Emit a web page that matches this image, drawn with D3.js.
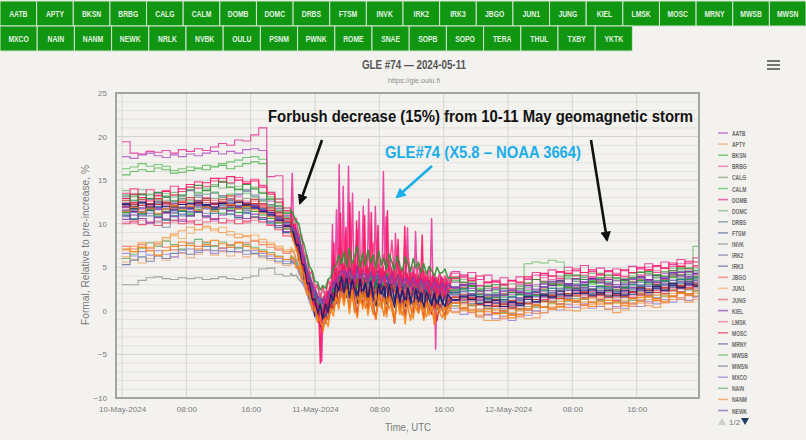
<!DOCTYPE html>
<html>
<head>
<meta charset="utf-8">
<script src="https://cdn.jsdelivr.net/npm/d3@7"></script>
<style>
  html, body { margin: 0; padding: 0; background: #f3f2ef; }
  svg { display: block; }
</style>
</head>
<body>
<svg id="chart" width="806" height="440"></svg>
<script>
// Neutron monitor stations (button order; first 26 appear on legend page 1)
const stations = ["AATB","APTY","BKSN","BRBG","CALG","CALM","DOMB","DOMC","DRBS","FTSM","INVK","IRK2","IRK3",
  "JBGO","JUN1","JUNG","KIEL","LMSK","MOSC","MRNY","MWSB","MWSN","MXCO","NAIN","NANM","NEWK",
  "NRLK","NVBK","OULU","PSNM","PWNK","ROME","SNAE","SOPB","SOPO","TERA","THUL","TXBY","YKTK"];

const stationColors = ["#b55bc9","#f2ad78","#58b858","#ef6aa6","#8faa8f","#66c266","#e6399b","#8db98d","#7b8daa",
  "#6a7eaa","#9b9b9b","#8a8ab6","#7878a6","#ef7d6c","#f3b36c","#ef6a7c","#8f4cb8","#f07aa8","#ef4a6a","#7676b2",
  "#72c072","#8a8aa2","#9f8ad8","#76b076","#f39c52","#7a68c6","#1f2a8a","#d42a2a","#2aa02a","#ff7f10","#7a1fa8",
  "#c23a2e","#1e6e8a","#ff3d8a","#ff1464","#2f8f2f","#1a1a70","#e8801e","#8c3fae"];

// Hourly values, 10 May 00:00 .. 20:00 UTC (one row per station)
const hourlyBefore = [
  [17.7,17.5,17.9,18.1,17.8,17.6,17.9,17.7,18.0,17.8,18.1,18.3,18.0,18.3,18.1,18.5,18.6,18.4,12.6,11.8,10.6],
  [5.6,5.9,5.5,6.0,6.3,5.8,6.2,6.6,6.1,6.5,6.9,6.4,6.8,6.3,6.7,6.2,6.5,6.1,5.8,5.5,5.2],
  [15.6,16.0,16.2,16.0,16.4,16.2,15.8,15.9,16.1,16.4,16.2,16.5,16.7,16.3,16.6,16.9,17.1,16.9,13.1,12.4,11.3],
  [11.8,12.3,11.6,12.0,12.6,12.2,11.9,12.4,12.8,12.5,13.0,12.7,12.4,12.9,13.1,12.6,12.8,12.2,11.9,11.2,10.4],
  [12.6,13.1,12.4,12.9,12.2,12.7,13.3,12.8,12.5,13.0,13.4,12.9,13.2,12.7,12.5,12.9,12.3,12.6,11.8,11.5,10.8],
  [16.3,16.5,16.9,16.6,16.8,16.6,16.1,16.3,16.5,16.3,16.7,16.6,16.9,17.1,17.3,17.6,17.7,17.4,13.6,12.9,11.8],
  [19.4,18.1,18.0,18.3,18.2,18.4,18.1,18.5,18.3,18.6,18.4,18.8,19.2,19.0,19.6,19.5,20.2,21.0,15.4,15.5,11.0],
  [13.8,13.2,13.9,13.4,12.8,13.5,13.1,13.7,14.2,13.6,13.9,14.5,14.1,14.6,14.3,13.8,14.2,13.6,12.9,12.1,11.3],
  [11.2,10.6,11.4,10.9,10.2,9.6,10.4,10.9,11.3,11.8,11.2,11.6,12.1,11.5,11.9,12.3,11.7,11.4,10.8,10.1,9.4],
  [5.3,5.8,6.2,5.7,6.3,6.0,6.6,7.0,6.5,6.9,7.4,6.9,7.2,6.8,7.3,6.9,6.6,6.3,6.0,5.7,5.4],
  [3.0,3.0,3.5,3.8,3.9,3.7,3.6,3.8,3.7,3.8,3.6,3.7,3.9,3.7,3.6,3.8,4.0,4.8,4.9,4.2,4.0],
  [12.1,11.5,12.3,12.8,12.0,11.6,12.4,12.9,12.3,13.2,12.7,13.5,13.0,12.6,13.3,13.7,13.1,12.6,12.0,11.4,10.5],
  [10.8,11.4,10.9,11.6,11.1,10.5,11.2,11.8,11.4,12.0,12.4,11.9,12.3,12.7,12.1,11.8,12.2,11.6,11.0,10.6,9.8],
  [7.4,7.1,7.6,7.2,7.7,7.3,7.0,7.5,7.8,7.4,7.9,7.5,7.2,7.6,7.9,7.8,8.0,7.6,7.3,7.0,6.6],
  [6.2,6.8,7.3,6.9,7.6,8.1,8.6,8.3,8.9,9.3,9.5,9.2,9.6,9.1,8.8,8.5,8.7,8.2,7.8,7.4,7.0],
  [12.4,11.9,12.6,12.1,12.8,12.3,11.8,12.5,12.2,12.7,12.4,12.0,12.6,12.9,12.5,12.2,12.6,12.1,11.6,11.1,10.2],
  [11.5,11.9,11.3,11.7,12.2,11.8,12.3,11.9,11.6,12.1,11.7,12.2,11.8,12.4,12.0,11.7,12.1,11.5,11.2,10.7,9.9],
  [10.2,10.1,10.4,10.0,10.3,10.6,10.2,10.5,10.1,10.4,10.7,10.3,10.6,10.2,10.5,10.1,10.4,10.2,9.9,9.5,8.9],
  [10.0,10.3,9.9,10.2,9.8,10.1,10.4,10.0,10.3,9.9,10.2,10.6,10.1,10.4,10.0,10.3,10.7,10.2,9.8,9.3,8.6],
  [13.1,12.5,13.3,12.8,13.5,13.0,12.6,13.2,13.8,13.3,12.9,13.6,13.2,12.8,13.4,13.9,13.3,12.8,12.2,11.7,10.9],
  [12.9,13.4,12.8,13.3,12.7,13.2,13.6,13.1,12.7,13.5,14.1,13.6,13.0,13.4,14.0,13.5,13.1,12.7,12.1,11.5,10.7],
  [11.6,12.0,11.4,11.9,12.3,11.7,11.3,11.8,12.4,11.9,12.2,11.6,12.1,12.5,11.9,11.5,11.9,11.4,11.0,10.4,9.7],
  [6.6,6.3,6.8,6.4,6.9,6.5,6.2,6.7,7.1,6.7,7.0,6.6,6.9,7.3,6.8,6.5,6.9,6.6,6.3,6.0,5.7],
  [6.0,6.5,7.2,7.8,7.4,8.0,7.6,7.1,7.7,8.2,7.8,7.4,7.9,7.5,7.2,7.6,7.3,7.0,6.7,6.3,5.9],
  [7.0,7.4,7.8,7.3,7.9,8.4,8.8,9.2,9.6,9.3,9.7,9.4,9.0,8.7,8.4,8.6,8.1,7.9,7.6,7.2,6.8],
  [10.9,11.3,11.8,11.2,11.6,12.0,11.5,11.1,11.7,12.2,11.8,11.4,11.9,12.3,11.7,11.3,11.8,11.3,10.9,10.3,9.5],
  [12.3,12.0,12.5,12.2,11.9,12.4,12.1,11.8,12.3,12.6,12.2,11.9,12.4,12.1,11.8,12.2,12.0,11.7,11.3,10.8,10.1],
  [12.0,12.4,12.1,11.8,12.2,12.5,12.1,12.4,12.0,12.3,12.7,12.2,12.5,12.1,12.4,12.0,12.3,11.9,11.5,10.9,10.3],
  [11.3,11.7,11.2,11.6,11.0,11.4,11.9,11.5,11.1,11.6,12.0,11.6,11.2,11.7,11.3,11.8,11.4,11.0,10.6,10.1,9.4],
  [7.1,6.8,7.3,6.9,6.4,6.9,7.4,7.9,7.5,7.1,7.6,8.1,7.7,7.3,7.8,7.4,7.1,6.8,6.5,6.2,5.9],
  [11.9,11.4,11.8,12.3,11.7,11.3,11.8,12.2,11.8,11.4,11.9,12.3,11.8,11.5,12.0,12.4,11.9,11.5,11.1,10.5,9.8],
  [12.7,12.2,12.8,12.3,12.9,12.4,12.0,12.6,13.0,12.5,12.9,12.4,12.8,13.2,12.7,12.3,12.8,12.3,11.8,11.3,10.6],
  [11.0,10.5,11.1,11.5,10.8,10.4,10.9,11.4,10.9,11.3,10.8,11.2,11.7,11.1,10.7,11.2,10.8,10.5,10.1,9.6,9.0],
  [13.5,14.0,13.4,13.9,13.3,13.8,14.3,13.7,14.2,14.8,14.3,14.9,15.2,14.7,15.3,14.8,15.1,14.4,13.6,12.8,11.8],
  [12.9,13.4,13.0,12.6,13.2,13.7,13.3,14.0,14.5,14.1,14.7,15.2,14.8,15.4,15.0,14.6,14.9,14.2,13.4,12.5,11.5],
  [13.3,12.7,13.4,12.9,13.6,13.1,12.6,13.3,13.9,14.4,13.8,14.3,14.8,14.2,13.9,14.5,14.0,13.5,12.8,12.0,11.2],
  [12.2,11.7,12.4,11.9,12.5,12.0,11.6,12.2,11.8,12.4,12.1,11.7,12.3,11.9,12.5,12.1,11.8,11.4,11.0,10.4,9.7],
  [11.4,11.9,11.3,11.8,11.2,11.7,12.1,11.6,12.0,11.5,11.9,11.4,11.8,12.2,11.7,12.0,11.6,11.2,10.8,10.2,9.5],
  [10.5,11.0,10.6,10.1,10.7,11.2,10.8,10.3,10.9,11.4,10.9,10.5,11.0,11.5,10.9,10.6,11.1,10.7,10.3,9.8,9.1]
];

// High-resolution values, evenly spaced from 10 May 21:00 to 11 May 16:30 UTC
// (~20-min samples; DOMB and SOPO at 10-min samples)
const highRes = [
  [10.3,9.4,9.5,7.9,7.4,5.4,5.1,3.5,3.3,1.9, 2.0,0.9,1.6,1.0,2.3,2.2,3.4,3.2,4.6,3.9, 5.1,4.0,4.9,3.7,5.0,4.4,3.8,4.9,3.6,4.6, 4.5,3.7,4.9,3.5,4.2,4.1,3.2,4.4,3.5,3.9, 3.1,4.2,3.3,3.6,3.9,2.8,3.7,3.4,2.7,3.6, 3.3,2.6,3.5,3.2,2.5,3.4,2.7,3.1,2.4,3.0],
  [6.4,6.1,5.2,4.9,3.8,3.6,2.4,1.9,0.6,0.5, -0.8,-0.6,-1.5,-0.4,-0.7,0.6,0.4,1.7,1.4,2.6, 1.9,2.8,1.6,2.9,1.7,2.5,1.3,2.7,1.8,1.5, 2.4,1.3,2.2,1.9,1.1,2.3,1.2,1.8,1.7,0.9, 1.8,0.9,1.6,1.5,0.7,1.7,0.8,1.3,1.2,0.6, 1.4,0.5,1.2,1.0,0.4,1.3,0.6,0.9,0.8,0.3],
  [10.8,9.6,8.9,7.3,6.8,4.9,4.6,2.8,2.9,1.2, 1.5,0.1,0.9,0.2,1.9,1.4,3.1,2.2,3.3,4.6, 3.4,4.5,3.3,3.1,4.7,3.0,4.2,3.5,2.6,4.1, 3.8,2.7,3.6,4.2,2.8,3.1,4.0,2.4,3.5,3.3, 2.2,3.6,2.9,2.3,3.5,2.0,3.2,3.0,1.9,3.3, 2.6,1.8,3.2,2.4,1.7,3.0,2.5,1.6,2.9,2.3],
  [10.1,10.3,9.2,8.8,7.1,6.6,4.8,4.5,3.0,3.1, 1.6,2.0,1.1,2.2,1.9,3.3,3.0,4.4,4.0,5.3, 4.5,5.2,4.1,5.4,4.6,3.9,5.1,4.3,4.8,3.7, 5.0,4.1,4.6,3.6,4.9,4.3,3.5,4.7,3.6,4.2, 4.4,3.3,4.1,3.9,3.1,4.2,3.2,3.8,3.7,2.9, 3.9,3.0,3.6,3.5,2.7,3.8,2.9,3.4,3.3,2.6],
  [10.2,8.7,8.9,6.9,6.8,4.6,4.4,2.5,2.7,0.9, 1.2,-0.2,0.7,-0.1,1.5,1.2,2.7,2.3,3.6,3.0, 4.1,2.9,4.2,3.1,3.9,2.8,4.0,3.0,3.7,2.7, 3.8,2.8,3.6,2.6,3.5,2.5,3.4,2.5,3.3,2.3, 3.2,2.2,3.1,2.1,3.0,2.0,2.9,2.0,2.8,1.9, 2.7,1.9,2.6,1.8,2.5,1.7,2.6,1.7,2.4,1.6],
  [11.0,9.8,9.1,7.7,7.0,5.1,4.9,3.0,2.6,1.8, 1.3,0.4,1.2,0.9,1.4,2.5,2.6,3.8,3.5,4.5, 4.9,3.6,4.7,3.1,5.3,3.8,4.1,4.8,3.2,4.6, 3.7,4.9,3.4,4.2,4.6,3.0,4.5,3.6,3.3,4.4, 3.5,4.1,2.8,4.3,3.4,3.2,4.0,2.9,3.6,3.3, 2.7,3.6,3.3,2.5,3.5,2.9,2.6,3.4,2.8,2.4],
  [10.5,15.8,9.6,10.2,9.1,8.7, 7.9,7.0,7.4,5.9,6.1,4.6, 4.8,3.6,4.1,2.4,3.0,1.6, 2.0,0.6,1.7,-0.3,0.9,-5.8,
   0.1,1.6,-0.4,2.1,0.8,2.6, 1.9,9.9,2.4,4.1,11.6,3.2, 16.8,5.6,3.4,14.3,5.8,3.6, 6.1,16.6,3.9,6.4,13.5,3.8,
   6.0,3.5,6.5,11.4,3.9,6.2, 12.0,4.1,6.3,3.6,12.8,6.0, 3.7,6.2,3.3,12.0,5.9,4.1, 3.4,5.8,3.2,16.0,5.3,10.8,
   5.5,3.0,5.9,3.4,5.6,2.9, 8.9,5.3,3.0,5.7,3.3,2.8, 5.2,2.9,5.5,9.5,3.1,5.0, 2.7,5.1,2.8,9.1,4.6,2.6,
   4.8,2.5,4.7,2.2,4.4,2.4, 4.5,2.2,4.3,10.6,2.5,4.0, -4.4,3.8,2.1,4.1,1.9,3.8, 2.0,3.9,1.8,3.5],
  [11.5,10.2,10.4,8.3,8.5,6.1,6.3,4.0,4.4,2.3, 3.1,1.2,2.6,1.4,3.5,2.6,4.8,3.7,5.9,4.4, 6.2,4.3,6.4,4.5,5.8,4.0,6.1,3.9,5.5,4.3, 5.7,3.8,5.3,3.6,5.4,3.9,5.0,3.4,5.1,3.5, 4.7,3.3,4.8,3.2,4.4,3.1,4.5,3.0,4.2,3.0, 4.1,2.9,4.0,2.8,3.9,2.7,3.8,2.6,3.7,2.6],
  [9.1,8.8,7.6,7.4,5.6,5.1,3.4,2.9,1.5,1.2, 0.0,0.3,-0.6,0.5,0.4,1.6,1.5,2.6,2.7,3.4, 3.0,3.3,2.6,3.5,3.1,2.7,3.4,2.5,3.3,2.4, 3.1,2.5,3.0,2.2,2.9,2.4,2.8,2.1,2.7,2.0, 2.6,1.9,2.5,1.8,2.4,1.8,2.3,1.7,2.2,1.6, 2.1,1.6,2.0,1.5,1.9,1.4,2.0,1.4,1.8,1.3],
  [5.9,5.4,5.8,4.6,4.2,3.1,2.6,1.4,1.1,-0.2, -0.6,-1.1,-0.9,-1.5,-0.3,-0.1,0.9,1.0,1.8,1.9, 2.4,1.7,2.3,1.6,2.2,1.5,2.0,1.7,1.6,1.9, 1.4,1.9,1.3,1.8,1.2,1.6,1.1,1.5,1.0,1.4, 0.9,1.3,0.8,1.2,0.7,1.1,0.6,1.0,0.6,0.9, 0.5,0.9,0.4,0.8,0.4,0.7,0.3,0.7,0.2,0.6],
  [4.3,4.0,4.1,3.6,3.3,2.8,2.5,1.7,1.2,0.5, 0.0,-0.6,-0.8,-0.3,0.2,0.8,1.4,2.0,2.4,2.8, 3.2,2.4,3.1,2.7,2.2,3.3,2.3,2.8,2.9,2.1, 2.7,2.2,1.9,2.8,2.0,2.5,2.6,1.7,2.5,2.0, 1.7,2.4,2.1,1.5,2.3,1.7,1.9,2.1,1.4,2.0, 1.8,1.2,1.9,1.5,1.1,1.8,1.3,1.5,1.6,1.0],
  [10.3,9.5,8.5,8.0,6.3,6.1,4.0,3.8,2.2,2.1, 0.8,1.3,0.3,1.4,1.0,2.5,2.3,3.6,3.3,4.3, 3.7,4.4,4.8,3.2,3.5,4.6,3.4,3.1,4.5,3.6, 2.9,4.2,3.8,2.8,3.1,4.3,3.0,2.7,3.9,3.5, 2.6,3.8,3.3,2.4,2.9,3.7,2.6,2.3,3.4,3.0, 2.2,3.3,2.9,2.0,2.5,3.2,2.3,2.0,2.9,2.6],
  [9.6,8.3,8.4,7.0,6.4,4.6,4.2,2.6,2.2,1.0, 0.8,-0.3,0.4,0.1,1.0,1.4,2.3,2.4,3.2,3.5, 3.4,3.8,2.9,3.9,3.2,3.6,2.9,3.7,2.8,3.5, 2.8,3.5,2.7,3.4,2.6,3.3,2.5,3.2,2.4,3.1, 2.3,3.0,2.2,2.9,2.1,2.8,2.0,2.7,2.0,2.6, 1.9,2.5,1.8,2.4,1.8,2.4,1.7,2.3,1.6,2.2],
  [6.8,6.9,5.7,5.9,4.4,4.1,2.9,2.2,1.1,0.4, -0.3,-0.9,-1.2,-0.5,-0.4,0.6,0.9,1.6,2.1,2.4, 2.9,1.8,2.7,2.4,1.5,3.0,1.9,2.3,2.6,1.4, 2.4,2.0,1.2,2.5,1.6,2.1,2.3,1.0,2.2,1.7, 1.2,2.1,1.8,0.9,2.0,1.4,1.6,1.9,0.8,1.7, 1.4,0.7,1.7,1.2,0.6,1.6,1.0,1.3,1.4,0.5],
  [7.3,7.0,6.9,6.2,5.2,4.6,3.2,2.7,1.6,0.9, 0.2,-0.5,-0.4,0.0,0.4,1.1,1.6,2.1,2.4,2.9, 3.4,2.1,3.3,2.9,1.9,3.5,2.2,2.8,3.1,1.8, 2.9,2.4,1.7,3.0,2.0,2.6,2.8,1.5,2.7,2.1, 1.6,2.6,2.2,1.3,2.5,1.8,2.1,2.3,1.2,2.2, 1.9,1.1,2.2,1.6,1.0,2.1,1.4,1.7,1.9,0.9],
  [10.3,9.4,8.6,7.9,6.4,5.6,4.1,3.5,2.2,1.9, 0.8,0.9,0.2,1.1,1.2,2.2,2.5,3.3,3.7,4.0, 4.5,3.4,4.3,3.6,3.2,4.4,3.3,3.9,3.8,3.0, 4.1,3.2,3.5,3.9,2.8,3.7,3.4,2.9,3.8,2.7, 3.3,3.6,2.6,3.4,3.1,2.5,3.5,2.8,2.6,3.2, 2.4,3.1,2.7,2.2,3.0,2.5,2.3,2.9,2.1,2.6],
  [9.8,9.2,8.0,7.7,6.0,5.4,3.8,3.3,1.9,1.6, 0.5,0.7,0.0,0.9,0.9,2.0,2.2,3.1,3.4,3.8, 3.3,4.1,3.1,4.0,3.2,3.9,3.0,3.8,3.1,3.7, 2.9,3.7,2.8,3.6,2.8,3.5,2.7,3.4,2.6,3.3, 2.5,3.2,2.4,3.1,2.3,3.0,2.3,2.9,2.2,2.8, 2.1,2.7,2.0,2.6,2.0,2.6,1.9,2.5,1.9,2.4],
  [9.0,8.1,8.0,6.6,6.2,4.2,4.0,2.1,1.9,0.4, 0.6,-0.6,0.1,-0.3,0.9,0.8,2.1,1.9,3.1,2.7, 3.6,2.6,3.5,2.4,3.2,3.0,2.3,3.4,2.5,3.1, 2.2,3.2,2.6,2.0,3.1,2.4,2.3,2.9,1.9,2.8, 2.4,1.8,2.8,2.1,1.7,2.6,2.0,1.9,2.5,1.5, 2.2,1.6,2.3,1.9,1.4,2.2,1.7,1.5,2.1,1.3],
  [8.6,8.3,7.3,7.2,5.4,4.9,3.2,2.7,1.2,1.0, -0.3,0.1,-0.9,0.3,-0.1,1.3,1.1,2.4,2.2,3.3, 2.6,3.4,2.4,3.3,2.5,3.2,2.3,3.1,2.4,3.0, 2.2,3.0,2.1,2.9,2.1,2.8,2.0,2.7,1.9,2.6, 1.8,2.5,1.7,2.4,1.6,2.3,1.6,2.2,1.5,2.1, 1.4,2.0,1.3,1.9,1.3,1.9,1.2,1.8,1.2,1.7],
  [10.8,9.5,9.4,8.0,7.3,5.8,5.0,3.7,3.1,2.1, 1.8,1.1,1.3,1.3,2.1,2.4,3.3,3.4,4.3,4.2, 4.9,4.0,4.7,4.6,3.8,4.9,4.0,4.4,4.5,3.7, 4.5,3.7,4.1,4.3,3.4,4.2,3.9,3.3,4.2,3.3, 3.9,3.8,3.1,4.0,3.5,3.0,3.8,3.2,3.0,3.6, 2.9,3.5,3.2,2.7,3.5,3.0,2.8,3.4,2.6,3.1],
  [10.4,10.2,9.0,8.9,7.0,6.5,4.8,4.4,3.0,2.9, 1.6,1.9,1.1,2.1,1.9,3.2,3.1,4.3,4.1,5.1, 4.5,5.2,4.3,5.1,4.4,5.0,4.2,4.9,4.1,4.8, 4.0,4.8,3.9,4.7,3.9,4.6,3.8,4.5,3.7,4.4, 3.6,4.3,3.5,4.2,3.4,4.1,3.4,4.0,3.3,3.9, 3.2,3.8,3.1,3.7,3.1,3.7,3.0,3.6,3.0,3.5],
  [9.4,8.8,8.4,7.2,6.3,4.9,4.0,2.8,2.2,1.2, 0.9,0.1,0.5,0.4,1.1,1.6,2.3,2.8,3.2,3.6, 3.9,3.1,3.8,3.3,2.9,4.0,3.0,3.5,3.4,2.7, 3.6,2.9,3.2,3.5,2.5,3.4,3.1,2.6,3.4,2.4, 3.0,3.3,2.3,3.1,2.8,2.2,3.2,2.5,2.3,2.9, 2.1,2.8,2.4,1.9,2.7,2.2,2.0,2.6,1.8,2.3],
  [6.0,5.6,5.5,4.3,3.8,2.8,2.0,1.0,0.3,-0.6, -1.1,-1.6,-1.3,-1.4,-0.6,-0.2,0.6,0.8,1.7,1.6, 2.3,1.5,2.2,1.4,2.0,1.6,1.3,2.1,1.2,1.8, 1.7,1.1,1.9,1.2,1.5,1.4,0.9,1.6,1.0,1.3, 1.2,0.7,1.4,0.8,1.1,0.9,0.5,1.2,0.6,0.9, 0.8,0.4,1.0,0.5,0.7,0.6,0.2,0.8,0.3,0.5],
  [6.3,6.0,5.9,4.9,4.3,3.5,2.7,1.8,1.2,0.3, -0.1,-0.8,-0.6,-0.7,0.1,0.5,1.2,1.6,2.3,2.4, 2.9,2.4,2.8,2.3,2.6,2.2,2.7,2.1,2.5,2.2, 2.4,2.0,2.3,1.9,2.2,1.8,2.1,1.8,2.0,1.7, 1.9,1.6,1.8,1.5,1.7,1.4,1.6,1.4,1.5,1.3, 1.4,1.2,1.4,1.1,1.3,1.0,1.3,1.0,1.2,0.9],
  [7.0,6.8,6.0,5.6,4.6,3.6,2.8,1.5,0.9,-0.1, -0.9,-1.1,-1.6,-0.8,-0.7,0.2,0.6,1.5,1.7,2.3, 2.6,1.9,2.4,2.1,1.6,2.7,1.7,2.2,2.3,1.4, 2.2,1.5,1.8,2.1,1.1,1.9,1.6,1.2,2.0,1.0, 1.5,1.8,0.9,1.6,1.3,0.8,1.7,1.0,0.9,1.4, 0.7,1.3,1.0,0.5,1.2,0.8,0.6,1.1,0.4,0.9],
  [9.6,9.1,8.2,7.8,6.1,5.5,3.9,3.3,2.1,1.6, 0.7,0.7,0.1,1.0,1.0,2.1,2.3,3.2,3.5,3.9, 3.5,4.2,3.3,4.1,3.4,4.0,3.2,3.9,3.3,3.8, 3.1,3.8,3.0,3.7,3.0,3.6,2.9,3.5,2.8,3.4, 2.7,3.3,2.6,3.2,2.5,3.1,2.5,3.0,2.4,2.9, 2.3,2.8,2.2,2.7,2.2,2.7,2.1,2.6,2.1,2.5],
  [10.0,8.2,8.5,6.0,6.3,3.6,4.0,1.4,2.0,-0.6, 0.8,-1.8,-0.2,-1.0,1.2,-0.1,2.6,0.9,3.8,1.8, 4.1,1.6,4.0,1.8,3.9,1.5,3.6,1.7,3.8,1.4, 3.5,1.5,3.6,1.3,3.4,1.2,3.2,1.4,3.1,1.0, 3.0,0.9,2.9,1.1,2.8,0.8,2.7,0.9,2.6,0.7, 2.5,0.7,2.4,0.8,2.4,0.6,2.3,0.7,2.2,0.5],
  [9.8,8.0,7.7,5.9,5.6,3.7,3.3,1.8,1.4,0.0, -0.5,-1.5,-2.2,-0.6,-1.0,0.8,0.2,2.3,0.9,2.9, 1.1,3.1,0.4,2.6,1.3,-0.5,2.8,0.7,2.2,0.1, 2.4,0.6,-0.9,2.1,0.8,1.6,-0.3,2.0,0.5,-1.4, 1.7,0.2,1.3,-0.6,1.6,0.4,-0.2,1.5,0.0,1.1, -0.8,1.2,0.3,-0.4,1.0,-1.1,0.8,0.1,-0.5,0.9],
  [9.7,9.2,8.2,7.9,6.1,5.6,3.9,3.4,2.0,1.8, 0.6,0.9,0.0,1.2,0.9,2.3,2.2,3.4,3.3,4.1, 4.3,3.0,5.2,3.6,4.8,2.7,4.9,3.9,2.9,5.0, 3.4,4.6,2.6,4.4,3.8,2.5,4.7,3.1,4.0,2.6, 4.2,2.9,3.7,4.5,2.4,3.9,3.3,2.5,4.1,3.0, 2.6,3.8,3.2,2.2,3.6,2.8,2.4,3.5,2.7,2.3],
  [6.1,6.0,4.9,5.1,3.6,3.4,1.9,1.8,0.1,0.2, -1.3,-0.6,-2.4,-0.9,-1.8,0.3,-0.6,1.6,0.2,2.2, 0.6,2.5,-0.3,2.4,0.4,-0.8,2.1,0.2,1.9,-0.5, 1.8,0.0,-1.0,2.0,0.3,1.5,-0.7,1.7,0.1,-1.2, 1.4,-0.4,0.9,-1.5,1.2,0.4,-0.9,1.3,-0.3,0.8, -1.1,1.0,-0.5,0.6,-1.6,0.9,-0.2,-0.8,0.7,-0.4],
  [10.1,9.8,9.1,8.5,7.0,6.2,4.7,4.0,3.0,2.5, 1.6,1.5,1.1,1.8,1.9,2.8,3.2,3.9,4.3,4.7, 5.1,4.2,4.9,4.4,3.9,5.2,4.1,4.6,4.6,3.8, 4.8,3.9,4.3,4.6,3.5,4.4,4.0,3.6,4.5,3.4, 4.0,4.2,3.3,4.1,3.8,3.2,4.2,3.5,3.3,3.9, 3.1,3.7,3.4,2.9,3.7,3.2,2.9,3.6,2.8,3.3],
  [9.9,8.4,8.2,6.6,6.0,4.3,3.7,2.3,1.8,0.6, 0.4,-0.4,-0.1,0.2,0.6,1.3,1.9,2.3,3.0,3.2, 3.9,2.4,3.6,3.1,2.2,3.7,2.5,3.2,3.4,2.1, 3.3,2.6,2.0,3.2,2.3,2.9,3.0,1.8,2.9,2.3, 1.9,2.8,2.4,1.6,2.7,1.9,2.2,2.5,1.4,2.4, 2.1,1.3,2.4,1.8,1.2,2.3,1.5,1.8,2.0,1.1],
  [9.4,9.3,8.9,7.6,6.9,5.4,4.6,3.3,2.8,1.8, 1.4,0.8,0.9,1.0,1.7,2.1,2.9,3.2,3.9,4.0, 4.8,3.5,4.6,4.2,3.3,4.9,3.6,4.2,4.4,3.1, 4.3,3.6,3.0,4.2,3.3,3.9,4.0,2.8,3.9,3.3, 2.9,3.8,3.4,2.6,3.7,2.9,3.2,3.5,2.4,3.4, 3.1,2.3,3.4,2.8,2.2,3.3,2.5,2.8,3.0,2.1],
  [11.4,10.4,10.6,8.6,8.7,6.3,6.4,4.2,4.6,2.5, 3.0,1.5,2.8,1.6,3.6,2.8,5.1,3.8,7.2,4.6, 8.8,4.5,6.6,5.2,4.4,9.3,4.7,5.8,4.1,6.9, 4.3,7.8,4.6,5.3,3.8,6.5,4.4,4.9,8.1,3.9, 5.7,4.0,4.8,3.7,6.6,4.1,4.5,3.6,5.3,3.8, 4.6,3.4,4.9,3.5,4.2,3.3,4.4,3.2,4.0,3.1],
  [11.0,10.2,9.4,9.9,8.6,8.1, 7.4,6.6,6.9,5.2,5.6,3.9, 4.3,2.6,3.5,1.8,2.3,0.6, 1.4,-0.4,0.9,-1.2,-6.0,-0.6,
   0.2,1.7,-0.3,2.2,0.6,2.8, 1.7,3.9,7.8,2.6,4.9,2.9, 4.9,11.2,3.1,5.4,3.3,9.6, 5.3,3.0,12.4,5.6,3.2,5.8,
   3.0,10.3,5.4,3.1,5.7,3.3, 5.5,10.9,3.2,5.1,3.4,5.3, 11.3,3.0,5.0,3.4,5.2,9.8, 3.1,4.9,3.3,5.1,2.9,4.7,
   11.5,4.8,2.8,4.9,3.0,4.6, 2.7,4.5,8.2,2.6,4.7,2.8, 4.4,9.7,2.6,4.3,2.9,4.5, 2.4,4.4,2.5,4.2,2.7,4.1,
   2.3,4.3,8.7,2.2,4.0,2.5, 4.1,2.0,3.9,2.3,4.0,1.9, 3.8,2.1,3.7,1.8,3.9,2.0, 3.6,1.7,3.7,1.9],
  [11.6,11.0,10.3,10.0,8.4,7.6,6.3,5.1,4.6,3.4, 3.3,2.4,2.9,2.6,3.6,3.9,4.9,5.3,6.4,5.4, 6.8,5.1,7.2,5.4,6.3,7.4,5.0,6.6,5.2,7.0, 5.5,6.4,4.9,6.9,5.3,6.1,4.8,6.5,5.6,4.7, 6.3,5.1,4.6,6.2,5.4,4.5,6.0,4.9,5.6,4.4, 5.4,4.2,5.1,4.6,4.0,5.0,4.3,4.4,4.8,3.8],
  [9.2,9.0,7.5,7.6,5.4,5.3,3.1,3.2,1.2,1.4, -0.4,0.7,-0.9,0.8,-0.2,1.9,1.2,3.2,2.3,3.9, 2.1,4.0,1.5,3.6,2.5,0.9,3.8,1.8,3.2,1.2, 3.4,1.6,0.6,3.1,1.9,2.8,0.8,3.0,1.5,0.4, 2.7,1.2,2.3,0.5,2.6,1.4,0.7,2.5,1.0,2.1, 0.3,2.2,1.3,0.6,2.0,0.2,1.8,1.1,0.5,1.9],
  [9.0,8.0,7.0,6.4,4.8,4.2,2.4,2.0,0.6,0.4, -0.7,-1.2,-1.9,-0.8,-1.0,0.3,0.1,1.4,1.2,2.1, 1.2,2.4,0.6,1.9,-0.2,1.7,0.9,2.2,0.3,1.5, 0.8,-0.4,1.9,0.5,1.2,-0.6,1.6,0.2,1.1,-0.9, 1.3,0.4,-0.5,1.2,0.6,-1.1,1.0,0.3,-0.2,0.9, 0.1,-0.7,0.8,0.2,-0.9,0.7,-0.1,0.4,-1.0,0.5],
  [9.5,9.6,8.7,8.1,6.8,5.8,4.5,3.7,2.7,2.1, 1.3,1.1,0.8,1.3,1.6,2.4,2.8,3.5,3.9,4.3, 4.6,3.8,4.5,4.0,3.6,4.7,3.7,4.2,4.2,3.4, 4.4,3.6,3.9,4.2,3.1,4.0,3.7,3.2,4.1,3.0, 3.6,3.9,2.9,3.7,3.4,2.8,3.8,3.1,2.9,3.5, 2.7,3.4,3.0,2.5,3.3,2.8,2.6,3.2,2.4,2.9]
];

// Hourly values, 11 May 17:00 .. 12 May 23:00 UTC
const hourlyAfter = [
  [3.3,2.6,3.1,2.3,2.6,2.1,2.4,1.9,2.6,2.5,3.0,2.8,3.4,3.1,3.7,3.4,3.8,3.3,3.5,3.2,3.5,3.3,3.8,3.5,4.1,3.8,4.3,4.0,4.5,4.2,4.6],
  [0.5,0.7,0.9,0.0,-0.4,-0.4,0.0,0.2,0.0,-0.2,-0.1,0.5,1.1,1.1,0.8,0.7,1.0,1.4,1.4,0.9,0.5,0.8,1.4,1.6,1.3,1.1,1.6,2.0,2.2,1.7,2.0],
  [2.0,2.4,2.0,2.3,1.7,1.9,1.2,1.7,1.5,2.3,1.8,2.5,2.3,2.9,2.5,3.1,2.7,3.1,2.6,3.0,2.4,3.0,2.6,3.3,3.0,3.5,3.1,3.8,3.4,3.9,3.7],
  [4.3,3.8,3.4,2.9,3.3,3.5,3.1,2.6,3.0,3.7,4.1,3.8,3.6,3.9,4.6,4.6,4.1,3.9,4.3,4.6,4.3,4.0,4.3,4.9,5.0,4.6,4.5,5.1,5.4,5.4,5.1],
  [2.4,2.3,1.8,1.2,1.2,1.6,1.7,1.0,1.0,1.9,2.2,1.8,1.9,2.6,2.8,2.3,2.2,2.8,2.9,2.2,2.0,2.7,3.0,2.6,2.6,3.2,3.4,3.0,3.0,3.6,3.5],
  [2.3,2.6,2.3,2.5,1.9,2.1,1.6,2.1,1.8,2.3,2.2,2.8,2.6,3.1,2.9,3.4,3.0,3.3,2.9,3.2,2.7,3.3,3.0,3.5,3.3,3.8,3.5,4.0,3.7,4.2,4.0],
  [4.5,3.9,4.4,3.6,4.1,3.3,3.8,3.4,3.9,3.6,4.4,4.1,4.7,4.4,5.0,4.6,5.2,4.5,4.9,4.5,4.8,4.6,5.1,4.8,5.4,5.1,5.6,5.3,5.9,5.5,6.1],
  [3.4,3.6,3.8,2.9,2.5,2.5,2.9,3.1,2.9,2.7,2.8,3.4,4.0,4.0,3.7,3.6,3.9,4.3,4.3,3.8,3.4,3.7,4.3,4.5,4.2,4.0,4.5,4.9,5.1,4.6,4.9],
  [2.1,1.6,1.2,0.7,1.1,1.3,0.9,0.4,0.8,1.5,1.9,1.6,1.4,1.7,2.4,2.4,1.9,1.7,2.1,2.4,2.1,1.8,2.1,2.7,2.8,2.4,2.3,2.9,3.2,3.2,2.9],
  [0.9,0.3,0.8,0.1,0.5,-0.2,0.1,-0.3,0.3,0.1,0.7,0.4,1.1,0.8,1.4,1.1,1.5,1.0,1.2,0.9,1.2,1.0,1.5,1.2,1.8,1.5,2.0,1.7,2.2,1.9,2.3],
  [1.2,1.4,1.6,0.7,0.3,0.3,0.7,0.9,0.7,0.5,0.6,1.2,1.8,1.8,1.5,1.4,1.7,2.1,2.1,1.6,1.2,1.5,2.1,2.3,2.0,1.8,2.3,2.7,2.9,2.4,2.7],
  [2.7,2.2,1.8,1.3,1.7,1.9,1.5,1.0,1.4,2.1,2.5,2.2,2.0,2.3,3.0,3.0,2.5,2.3,2.7,3.0,2.7,2.4,2.7,3.3,3.4,3.0,2.9,3.5,3.8,3.8,3.5],
  [1.9,1.2,1.8,1.0,1.4,0.8,1.1,0.7,1.3,1.0,1.7,1.5,2.1,1.8,2.4,2.1,2.5,2.0,2.2,1.9,2.2,2.0,2.5,2.2,2.8,2.5,3.0,2.7,3.2,2.9,3.3],
  [-0.1,0.3,-0.2,0.2,-0.5,-0.2,-0.9,-0.4,-0.6,0.2,-0.3,0.4,0.2,0.8,0.4,1.0,0.6,1.0,0.5,0.9,0.3,0.9,0.5,1.2,0.9,1.4,1.0,1.7,1.3,1.8,1.6],
  [1.5,1.0,0.6,0.1,0.5,0.7,0.3,-0.2,0.2,0.9,1.3,1.0,0.8,1.1,1.8,1.8,1.3,1.1,1.5,1.8,1.5,1.2,1.5,2.1,2.2,1.8,1.7,2.3,2.6,2.6,2.3],
  [2.5,2.7,2.9,2.0,1.6,1.6,2.0,2.2,2.0,1.8,1.9,2.5,3.1,3.1,2.8,2.7,3.0,3.4,3.4,2.9,2.5,2.8,3.4,3.6,3.3,3.1,3.6,4.0,4.2,3.7,4.0],
  [2.2,1.5,2.0,1.2,1.5,1.0,1.3,0.8,1.5,1.4,1.9,1.7,2.3,2.0,2.6,2.3,2.7,2.2,2.4,2.1,2.4,2.2,2.7,2.4,3.0,2.7,3.2,2.9,3.4,3.1,3.5],
  [1.1,1.5,1.1,1.4,0.8,1.0,0.3,0.8,0.6,1.4,0.9,1.6,1.4,2.0,1.6,2.2,1.8,2.2,1.7,2.1,1.5,2.1,1.7,2.4,2.1,2.6,2.2,2.9,2.5,3.0,2.8],
  [0.9,1.3,0.6,0.8,0.3,0.6,-0.1,0.5,0.2,0.9,0.6,1.3,1.0,1.6,1.3,1.9,1.5,1.8,1.3,1.7,1.2,1.8,1.5,2.0,1.8,2.3,2.0,2.5,2.2,2.7,2.5],
  [2.8,3.0,3.2,2.3,1.9,1.9,2.3,2.5,2.3,2.1,2.2,2.8,3.4,3.4,3.1,3.0,3.3,3.7,3.7,3.2,2.8,3.1,3.7,3.9,3.6,3.4,3.9,4.3,4.5,4.0,4.3],
  [3.5,2.9,3.3,2.6,2.9,2.3,2.6,2.1,2.8,5.4,5.6,5.5,5.8,5.6,3.9,3.6,4.0,3.5,3.7,3.4,3.7,3.5,4.0,3.7,4.3,4.0,4.5,4.2,4.7,4.4,7.4],
  [2.3,1.8,1.4,0.9,1.3,1.5,1.1,0.6,1.0,1.7,2.1,1.8,1.6,1.9,2.6,2.6,2.1,1.9,2.3,2.6,2.3,2.0,2.3,2.9,3.0,2.6,2.5,3.1,3.4,3.4,3.1],
  [0.3,-0.4,0.1,-0.7,-0.4,-0.9,-0.6,-1.1,-0.4,-0.5,0.0,-0.2,0.4,0.1,0.7,0.4,0.8,0.3,0.5,0.2,0.5,0.3,0.8,0.5,1.1,0.8,1.3,1.0,1.5,1.2,1.6],
  [0.6,1.0,0.6,0.9,0.3,0.5,-0.2,0.3,0.1,0.9,0.4,1.1,0.9,1.5,1.1,1.7,1.3,1.7,1.2,1.6,1.0,1.6,1.2,1.9,1.6,2.1,1.7,2.4,2.0,2.5,2.3],
  [-0.2,0.0,0.2,-0.7,-1.1,-1.1,-0.7,-0.5,-0.7,-0.9,-0.8,-0.2,0.4,0.4,0.1,0.0,0.3,0.7,0.7,0.2,-0.2,0.1,0.7,0.9,0.6,0.4,0.9,1.3,1.5,1.0,1.3],
  [1.8,2.2,1.7,1.9,1.3,1.6,1.0,1.5,1.2,1.9,1.6,2.3,2.1,2.6,2.3,2.9,2.5,2.8,2.3,2.7,2.2,2.8,2.5,3.0,2.8,3.3,3.0,3.5,3.2,3.7,3.5],
  [1.2,1.6,1.8,0.8,0.6,0.9,0.5,1.0,0.6,1.3,1.0,1.7,1.5,1.9,1.7,2.0,2.3,1.8,2.1,1.7,2.0,1.8,2.2,2.4,2.1,2.6,2.3,2.9,2.6,3.0,2.8],
  [1.6,0.9,1.5,0.7,1.0,0.5,0.8,0.3,0.9,0.8,1.3,1.1,1.7,1.4,2.0,1.7,2.1,1.6,1.8,1.5,1.8,1.6,2.1,1.8,2.4,2.1,2.6,2.3,2.8,2.5,2.9],
  [2.4,2.6,2.8,1.9,1.5,1.5,1.9,2.1,1.9,1.7,1.8,2.4,3.0,3.0,2.7,2.6,2.9,3.3,3.3,2.8,2.4,2.7,3.3,3.5,3.2,3.0,3.5,3.9,4.1,3.6,3.9],
  [0.9,0.4,0.0,-0.5,-0.1,0.1,-0.3,-0.8,-0.4,0.3,0.7,0.4,0.2,0.5,1.2,1.2,0.7,0.5,0.9,1.2,0.9,0.6,0.9,1.5,1.6,1.2,1.1,1.7,2.0,2.0,1.7],
  [2.6,3.0,2.6,2.9,2.3,2.5,1.8,2.3,2.1,2.9,2.4,3.1,2.9,3.5,3.1,3.7,3.3,3.7,3.2,3.6,3.0,3.6,3.2,3.9,3.6,4.1,3.7,4.4,4.0,4.5,4.3],
  [1.5,1.9,1.4,1.6,1.0,1.3,0.7,1.2,0.9,1.6,1.3,2.0,1.8,2.3,2.0,2.6,2.2,2.5,2.0,2.4,1.9,2.5,2.2,2.7,2.5,3.0,2.7,3.2,2.9,3.4,3.2],
  [2.1,2.5,2.3,1.7,1.4,1.8,1.3,1.6,1.9,1.7,2.2,1.9,2.6,2.4,2.9,2.6,3.0,2.5,2.8,2.5,2.7,2.6,3.0,2.8,3.3,2.9,3.4,3.2,3.6,3.4,3.8],
  [3.9,3.2,3.7,2.9,3.2,2.7,3.0,2.5,3.2,3.1,3.6,3.4,4.0,3.7,4.3,4.0,4.4,3.9,4.1,3.8,4.1,3.9,4.4,4.1,4.7,4.4,4.9,4.6,5.1,4.8,5.2],
  [3.7,4.1,3.5,4.0,3.3,3.4,3.0,3.5,3.3,3.9,3.6,4.3,4.0,4.5,4.3,4.8,4.4,4.7,4.2,4.6,4.1,4.7,4.4,5.0,4.7,5.2,4.9,5.5,5.1,5.7,5.6],
  [3.8,3.3,2.9,2.4,2.8,3.0,2.6,2.1,2.5,3.2,3.6,3.3,3.1,3.4,4.1,4.1,3.6,3.4,3.8,4.1,3.8,3.5,3.8,4.4,4.5,4.1,4.0,4.6,4.9,4.9,4.6],
  [1.3,1.7,1.3,1.6,1.0,1.2,0.5,1.0,0.8,1.6,1.1,1.8,1.6,2.2,1.8,2.4,2.0,2.4,1.9,2.3,1.7,2.3,1.9,2.6,2.3,2.8,2.4,3.1,2.7,3.2,3.0],
  [0.9,0.2,0.7,-0.1,0.2,-0.3,0.0,-0.5,0.2,0.1,0.6,0.4,1.0,0.7,1.3,1.0,1.4,0.9,1.1,0.8,1.1,0.9,1.4,1.1,1.7,1.4,1.9,1.6,2.1,1.8,2.2],
  [2.7,2.9,3.1,2.2,1.8,1.8,2.2,2.4,2.2,2.0,2.1,2.7,3.3,3.3,3.0,2.9,3.2,3.6,3.6,3.1,2.7,3.0,3.6,3.8,3.5,3.3,3.8,4.2,4.4,3.9,4.2]
];

// Axis ticks
const yTicks = [-10, -5, 0, 5, 10, 15, 20, 25];
const xTickHours = [0, 8, 16, 24, 32, 40, 48, 56, 64];
const xTickLabels = ["10-May-2024","08:00","16:00","11-May-2024","08:00","16:00","12-May-2024","08:00","16:00"];

// Texts
const chartTitle = "GLE #74 \u2014 2024-05-11";
const chartSubtitle = "https://gle.oulu.fi";
const yTitle = "Formal, Relative to pre-increase, %";
const xTitle = "Time, UTC";
const noteForbush = "Forbush decrease (15%) from 10-11 May geomagnetic storm";
const noteGle = "GLE#74 (X5.8 \u2013 NOAA 3664)";
const legendCount = 26;

// ---------------------------------------------------------------
const W = 806;
const SANS = '"Liberation Sans", Arial, sans-serif';
const HOUR = 3600e3;
const t0 = Date.UTC(2024, 4, 10, 0, 0);
const tAt = h => new Date(t0 + h * HOUR);

const svg = d3.select("#chart");

// Station selector buttons
const row1 = stations.slice(0, 22), row2 = stations.slice(22);
const btnRows = [
  { names: row1, y: 1, w: W / row1.length },
  { names: row2, y: 26, w: 37.2 }
];
btnRows.forEach(r => {
  const b = svg.append("g").selectAll("g").data(r.names).join("g")
    .attr("transform", (d, i) => `translate(${i * r.w},${r.y})`);
  b.append("rect").attr("width", r.w).attr("height", 25)
    .attr("fill", "#119611").attr("stroke", "#cfe6cf").attr("stroke-width", 1);
  b.append("text").attr("transform", `translate(${r.w / 2},16) scale(0.8,1)`)
    .attr("text-anchor", "middle").attr("font-family", SANS).attr("font-size", 8.5)
    .attr("font-weight", "bold").attr("fill", "#e2f3e2").text(d => d);
});

// Title and subtitle
svg.append("text").attr("x", 362).attr("y", 69).attr("textLength", 104).attr("lengthAdjust", "spacingAndGlyphs")
  .attr("font-family", SANS).attr("font-size", 12.5).attr("font-weight", "bold")
  .attr("fill", "#555").text(chartTitle);
svg.append("text").attr("x", 388).attr("y", 83).attr("textLength", 52).attr("lengthAdjust", "spacingAndGlyphs")
  .attr("font-family", SANS).attr("font-size", 7).attr("fill", "#8e8e8e").text(chartSubtitle);

// Context menu icon
[61, 65, 69].forEach(yy => svg.append("line").attr("x1", 767).attr("x2", 780)
  .attr("y1", yy).attr("y2", yy).attr("stroke", "#666").attr("stroke-width", 1.8));

// Scales
const plot = { l: 116, r: 699, t: 93, b: 398 };
const x = d3.scaleTime().domain([tAt(-0.75), tAt(71.75)]).range([plot.l, plot.r]);
const y = d3.scaleLinear().domain([-10, 25]).range([plot.b, plot.t]);

// Grid
const grid = svg.append("g");
grid.selectAll("line.minor").data(d3.range(-10, 26, 1).filter(v => v % 5 !== 0)).join("line")
  .attr("x1", plot.l).attr("x2", plot.r).attr("y1", d => y(d)).attr("y2", d => y(d))
  .attr("stroke", "#e3e2df").attr("stroke-width", 1);
grid.selectAll("line.major").data(yTicks).join("line")
  .attr("x1", plot.l).attr("x2", plot.r).attr("y1", d => y(d)).attr("y2", d => y(d))
  .attr("stroke", "#d3d2cf").attr("stroke-width", 1);
grid.selectAll("line.vert").data(xTickHours).join("line")
  .attr("x1", d => x(tAt(d))).attr("x2", d => x(tAt(d))).attr("y1", plot.t).attr("y2", plot.b)
  .attr("stroke", "#d6d5d2").attr("stroke-width", 1);

// Series: hourly step segments and the high-resolution segment
svg.append("clipPath").attr("id", "plotClip").append("rect")
  .attr("x", plot.l).attr("y", plot.t).attr("width", plot.r - plot.l).attr("height", plot.b - plot.t);

function stepPoints(vals, startHour) {
  const pts = [];
  vals.forEach((v, i) => { pts.push([tAt(startHour + i), v], [tAt(startHour + i + 1), v]); });
  return pts;
}
function highResPoints(k) {
  const hr = highRes[k];
  const hs = 21, he = 40.5, step = (he - hs) / (hr.length - 1);
  const pre = hourlyBefore[k], post = hourlyAfter[k];
  const pts = [[tAt(hs), pre[pre.length - 1]]];
  hr.forEach((v, i) => pts.push([tAt(hs + i * step), v]));
  pts.push([tAt(41), post[0]]);
  return pts;
}
const line = d3.line().x(d => x(d[0])).y(d => y(d[1]));
const series = svg.append("g").attr("clip-path", "url(#plotClip)");
const idx = stations.map((s, k) => k);
series.selectAll("path.before").data(idx).join("path").attr("class", "before")
  .attr("d", k => line(stepPoints(hourlyBefore[k], 0)));
series.selectAll("path.after").data(idx).join("path").attr("class", "after")
  .attr("d", k => line(stepPoints(hourlyAfter[k], 41)));
series.selectAll("path.before, path.after")
  .attr("fill", "none").attr("stroke", k => stationColors[k])
  .attr("stroke-width", 1.1).attr("stroke-opacity", 0.9);
series.selectAll("path.hires").data(idx).join("path").attr("class", "hires")
  .attr("d", k => line(highResPoints(k)))
  .attr("fill", "none").attr("stroke", k => stationColors[k])
  .attr("stroke-width", 1.5).attr("stroke-opacity", 0.9).attr("stroke-linejoin", "round");

// Plot frame
svg.append("rect").attr("x", plot.l).attr("y", plot.t)
  .attr("width", plot.r - plot.l).attr("height", plot.b - plot.t)
  .attr("fill", "none").attr("stroke", "#a3a3a3").attr("stroke-width", 2);

// Axes
const yAxis = svg.append("g").attr("transform", `translate(${plot.l},0)`)
  .call(d3.axisLeft(y).tickValues(yTicks).tickSize(0).tickPadding(9));
const xAxis = svg.append("g").attr("transform", `translate(0,${plot.b})`)
  .call(d3.axisBottom(x).tickValues(xTickHours.map(tAt)).tickSize(0).tickPadding(8)
    .tickFormat((d, i) => xTickLabels[i]));
[yAxis, xAxis].forEach(a => {
  a.select(".domain").remove();
  a.selectAll("text").attr("font-family", SANS).attr("font-size", 8).attr("fill", "#7a7a7a");
});

svg.append("text").attr("transform", "translate(89,245) rotate(-90)").attr("text-anchor", "middle")
  .attr("textLength", 160).attr("lengthAdjust", "spacingAndGlyphs")
  .attr("font-family", SANS).attr("font-size", 11.5).attr("fill", "#7a7a7a").text(yTitle);
svg.append("text").attr("x", 408).attr("y", 431).attr("text-anchor", "middle")
  .attr("textLength", 46).attr("lengthAdjust", "spacingAndGlyphs")
  .attr("font-family", SANS).attr("font-size", 11.5).attr("fill", "#7a7a7a").text(xTitle);

// Legend (first page)
const legend = svg.append("g").attr("transform", "translate(718,133)");
const li = legend.selectAll("g").data(stations.slice(0, legendCount)).join("g")
  .attr("transform", (d, i) => `translate(0,${i * 11.1})`);
li.append("line").attr("x1", 0).attr("x2", 10).attr("stroke-width", 1.6)
  .attr("stroke", (d, i) => stationColors[i]).attr("stroke-opacity", 0.75);
li.append("text").attr("transform", "translate(14,3) scale(0.64,1)").attr("font-family", SANS)
  .attr("font-size", 7.8).attr("font-weight", "bold").attr("fill", "#6a6a6a").text(d => d);

const pager = svg.append("g").attr("transform", "translate(718,425)");
pager.append("path").attr("d", "M0,0 L4,-7 L8,0 Z").attr("fill", "#cfcfcf");
pager.append("text").attr("x", 11).attr("y", 0).attr("font-family", SANS)
  .attr("font-size", 8).attr("fill", "#777").text("1/2");
pager.append("path").attr("d", "M23,-7 L31,-7 L27,0 Z").attr("fill", "#1f3a66");

// Annotations
const defs = svg.append("defs");
[["headBlack", "#111"], ["headCyan", "#1aaee8"]].forEach(([id, c]) => {
  defs.append("marker").attr("id", id).attr("viewBox", "0 0 10 10").attr("refX", 8).attr("refY", 5)
    .attr("markerWidth", 4).attr("markerHeight", 4).attr("orient", "auto-start-reverse")
    .append("path").attr("d", "M0,0 L10,5 L0,10 Z").attr("fill", c);
});
const arrows = [
  { x1: 322, y1: 140, x2: 300, y2: 203, c: "#111", m: "headBlack" },
  { x1: 591, y1: 140, x2: 607, y2: 240, c: "#111", m: "headBlack" },
  { x1: 432, y1: 166, x2: 397, y2: 197, c: "#1aaee8", m: "headCyan" }
];
svg.selectAll("line.arrow").data(arrows).join("line")
  .attr("x1", d => d.x1).attr("y1", d => d.y1).attr("x2", d => d.x2).attr("y2", d => d.y2)
  .attr("stroke", d => d.c).attr("stroke-width", 2.6).attr("marker-end", d => `url(#${d.m})`);

svg.append("text").attr("x", 268).attr("y", 122).attr("textLength", 425).attr("lengthAdjust", "spacingAndGlyphs")
  .attr("font-family", SANS).attr("font-size", 16).attr("font-weight", "bold").attr("fill", "#111").text(noteForbush);
svg.append("text").attr("x", 385).attr("y", 158).attr("textLength", 196).attr("lengthAdjust", "spacingAndGlyphs")
  .attr("font-family", SANS).attr("font-size", 16).attr("font-weight", "bold").attr("fill", "#1aaee8").text(noteGle);
</script>
</body>
</html>
